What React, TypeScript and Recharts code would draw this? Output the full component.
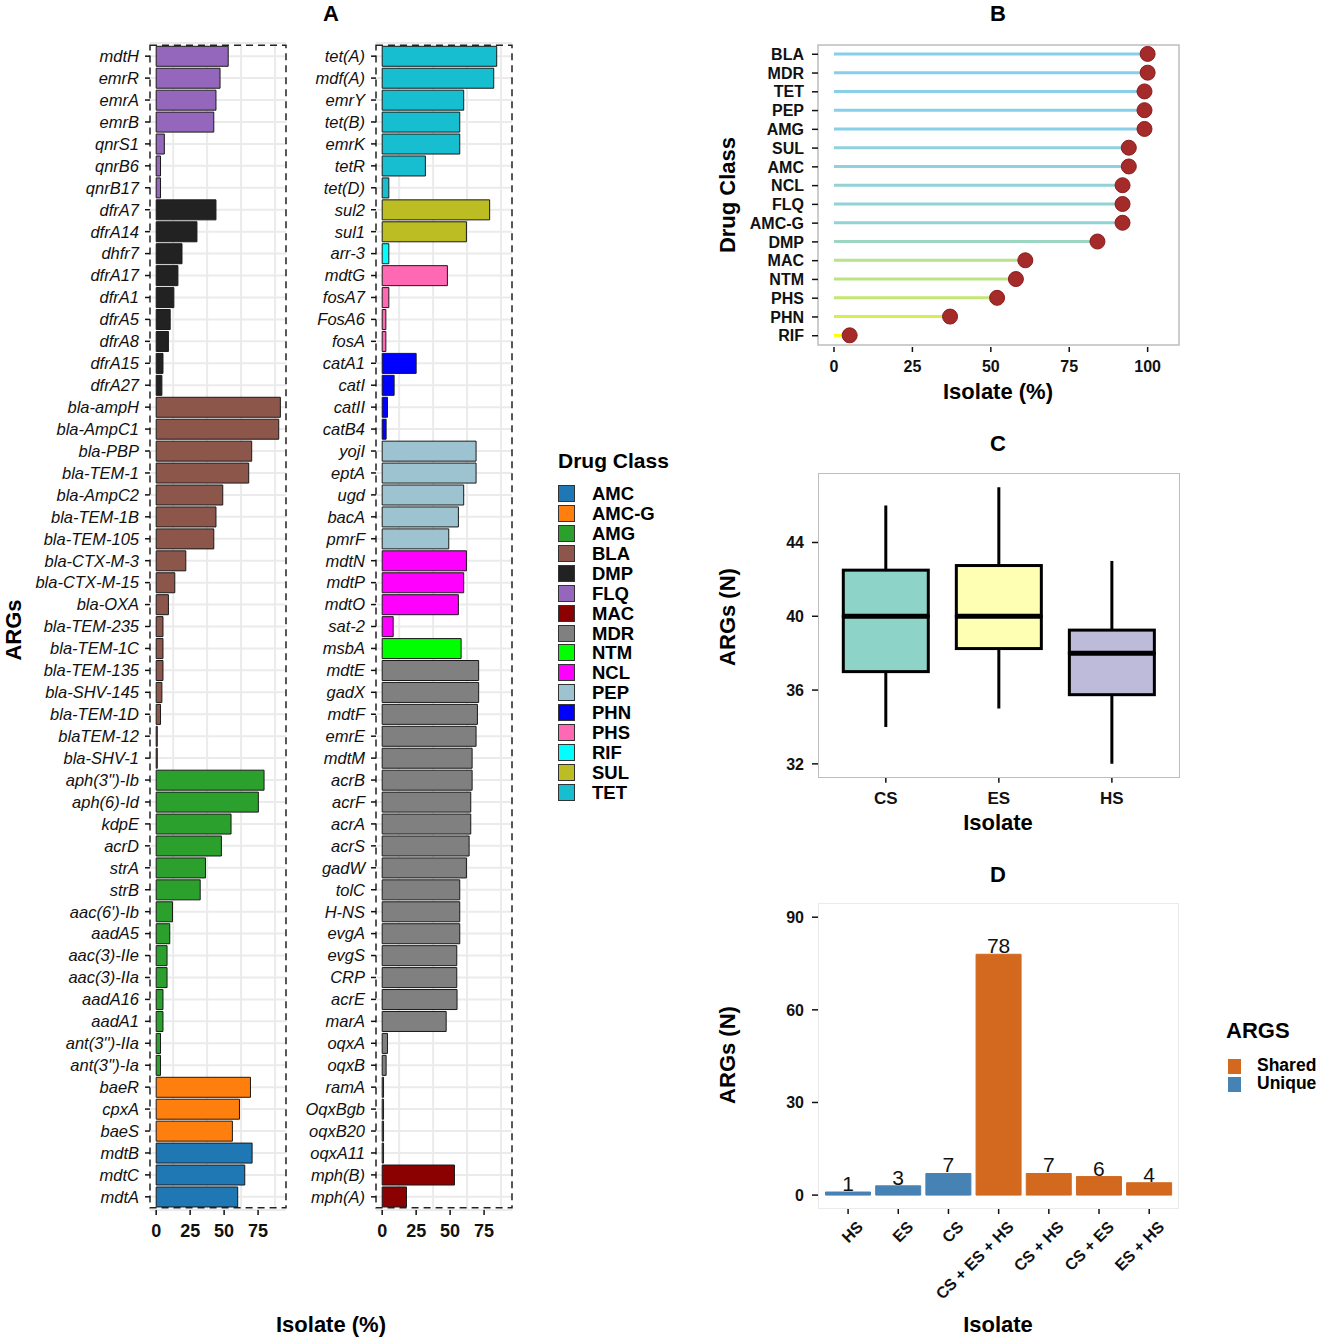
import React from 'react';
import { BarChart, Bar, XAxis, YAxis, CartesianGrid, Cell, ReferenceArea, LabelList } from 'recharts';

const FONT = "'Liberation Sans', Arial, Helvetica, sans-serif";

// drug classes and their fill colours (legend order)
const drugClasses = ['AMC', 'AMC-G', 'AMG', 'BLA', 'DMP', 'FLQ', 'MAC', 'MDR', 'NTM', 'NCL', 'PEP', 'PHN', 'PHS', 'RIF', 'SUL', 'TET'];
const classColors = ['#1f77b4', '#ff7f0e', '#2ca02c', '#8c564b', '#222222', '#9467bd', '#8b0000', '#808080', '#00ff00', '#ff00ff', '#9ec3d0', '#0000ff', '#ff69b4', '#00ffff', '#bcbd22', '#17becf'];

// Panel A, left facet
const leftGenes = ['mdtH', 'emrR', 'emrA', 'emrB', 'qnrS1', 'qnrB6', 'qnrB17', 'dfrA7', 'dfrA14', 'dhfr7', 'dfrA17', 'dfrA1', 'dfrA5', 'dfrA8', 'dfrA15', 'dfrA27', 'bla-ampH', 'bla-AmpC1', 'bla-PBP', 'bla-TEM-1', 'bla-AmpC2', 'bla-TEM-1B', 'bla-TEM-105', 'bla-CTX-M-3', 'bla-CTX-M-15', 'bla-OXA', 'bla-TEM-235', 'bla-TEM-1C', 'bla-TEM-135', 'bla-SHV-145', 'bla-TEM-1D', 'blaTEM-12', 'bla-SHV-1', "aph(3'')-Ib", 'aph(6)-Id', 'kdpE', 'acrD', 'strA', 'strB', "aac(6')-Ib", 'aadA5', 'aac(3)-IIe', 'aac(3)-IIa', 'aadA16', 'aadA1', "ant(3'')-IIa", "ant(3'')-Ia", 'baeR', 'cpxA', 'baeS', 'mdtB', 'mdtC', 'mdtA'];
const leftValues = [53, 47, 44, 42.4, 6, 3.2, 3.2, 44, 30, 19, 16, 13, 10.3, 9, 5, 4.2, 91.4, 90.2, 70.3, 68.1, 49, 44, 42.4, 21.8, 13.7, 9, 5, 5, 5, 4.2, 3.2, 0.8, 0.8, 79.4, 75.2, 55.1, 48, 36.3, 32.4, 12, 10, 8, 8, 5, 5, 3.2, 3.2, 69.4, 61.3, 56.1, 70.6, 65.2, 60];
const leftClasses = ['FLQ', 'FLQ', 'FLQ', 'FLQ', 'FLQ', 'FLQ', 'FLQ', 'DMP', 'DMP', 'DMP', 'DMP', 'DMP', 'DMP', 'DMP', 'DMP', 'DMP', 'BLA', 'BLA', 'BLA', 'BLA', 'BLA', 'BLA', 'BLA', 'BLA', 'BLA', 'BLA', 'BLA', 'BLA', 'BLA', 'BLA', 'BLA', 'BLA', 'BLA', 'AMG', 'AMG', 'AMG', 'AMG', 'AMG', 'AMG', 'AMG', 'AMG', 'AMG', 'AMG', 'AMG', 'AMG', 'AMG', 'AMG', 'AMC-G', 'AMC-G', 'AMC-G', 'AMC', 'AMC', 'AMC'];

// Panel A, right facet
const rightGenes = ['tet(A)', 'mdf(A)', 'emrY', 'tet(B)', 'emrK', 'tetR', 'tet(D)', 'sul2', 'sul1', 'arr-3', 'mdtG', 'fosA7', 'FosA6', 'fosA', 'catA1', 'catI', 'catII', 'catB4', 'yojI', 'eptA', 'ugd', 'bacA', 'pmrF', 'mdtN', 'mdtP', 'mdtO', 'sat-2', 'msbA', 'mdtE', 'gadX', 'mdtF', 'emrE', 'mdtM', 'acrB', 'acrF', 'acrA', 'acrS', 'gadW', 'tolC', 'H-NS', 'evgA', 'evgS', 'CRP', 'acrE', 'marA', 'oqxA', 'oqxB', 'ramA', 'OqxBgb', 'oqxB20', 'oqxA11', 'mph(B)', 'mph(A)'];
const rightValues = [84.3, 82.1, 60, 57.1, 57.1, 31.8, 4.9, 79.1, 62, 4.9, 48, 4.9, 2.7, 2.7, 25, 8.8, 3.9, 2.9, 69.1, 69.1, 60, 56.1, 49, 62, 60, 56.1, 8.1, 58.1, 71, 71, 70.1, 69.1, 66.2, 66.2, 65.2, 65.2, 64, 62, 57.1, 57.1, 57.1, 54.9, 54.9, 55.1, 47.1, 3.9, 2.9, 1, 1, 1, 1, 53.2, 17.9];
const rightClasses = ['TET', 'TET', 'TET', 'TET', 'TET', 'TET', 'TET', 'SUL', 'SUL', 'RIF', 'PHS', 'PHS', 'PHS', 'PHS', 'PHN', 'PHN', 'PHN', 'PHN', 'PEP', 'PEP', 'PEP', 'PEP', 'PEP', 'NCL', 'NCL', 'NCL', 'NCL', 'NTM', 'MDR', 'MDR', 'MDR', 'MDR', 'MDR', 'MDR', 'MDR', 'MDR', 'MDR', 'MDR', 'MDR', 'MDR', 'MDR', 'MDR', 'MDR', 'MDR', 'MDR', 'MDR', 'MDR', 'MDR', 'MDR', 'MDR', 'MDR', 'MAC', 'MAC'];
const isolateTicks = [0, 25, 50, 75];

// Panel B
const lolliClasses = ['BLA', 'MDR', 'TET', 'PEP', 'AMG', 'SUL', 'AMC', 'NCL', 'FLQ', 'AMC-G', 'DMP', 'MAC', 'NTM', 'PHS', 'PHN', 'RIF'];
const lolliValues = [100, 100, 99, 99, 99, 94, 94, 92, 92, 92, 84, 61, 58, 52, 37, 5];

// Panel C
const boxGroups = ['CS', 'ES', 'HS'];
const boxMin = [34, 35, 32];
const boxQ1 = [37, 38.25, 35.75];
const boxMedian = [40, 40, 38];
const boxQ3 = [42.5, 42.75, 39.25];
const boxMax = [46, 47, 43];
const boxFills = ['#8dd3c7', '#ffffb3', '#bebada'];

// Panel D
const isolateSets = ['HS', 'ES', 'CS', 'CS + ES + HS', 'CS + HS', 'CS + ES', 'ES + HS'];
const isolateCounts = [1, 3, 7, 78, 7, 6, 4];
const isolateTypes = ['Unique', 'Unique', 'Unique', 'Shared', 'Shared', 'Shared', 'Shared'];
const argsTypes = ['Shared', 'Unique'];
const argsColors = ['#d2691e', '#4682b4'];

const colorOf = (cls: string) => classColors[drugClasses.indexOf(cls)];

const tickTxt = { fontSize: 16, fontWeight: 'bold', fill: '#111', fontFamily: FONT };
const tickLn = { stroke: '#111', strokeWidth: 1.5 };

function Txt({ x, y, size = 22, weight = 'bold', rotate = false, left = false, children }: any) {
  return (
    <div
      style={{
        position: 'absolute',
        left: x,
        top: y,
        fontSize: size,
        fontWeight: weight,
        whiteSpace: 'nowrap',
        lineHeight: 1,
        color: '#000',
        transform: left ? 'translate(0,-50%)' : rotate ? 'translate(-50%,-50%) rotate(-90deg)' : 'translate(-50%,-50%)',
      }}
    >
      {children}
    </div>
  );
}

// plain panel outline drawn over a chart's plotting area
function Frame({ x, y, w, h, color }: any) {
  return <div style={{ position: 'absolute', left: x, top: y, width: w, height: h, border: `1.5px solid ${color}`, boxSizing: 'border-box', pointerEvents: 'none' }} />;
}

function ArgFacet({ genes, values, classes, left }: any) {
  const data = genes.map((g: string, i: number) => ({ gene: g, value: values[i], cls: classes[i] }));
  return (
    <div style={{ position: 'absolute', left, top: 0 }}>
      <BarChart width={291} height={1250} data={data} layout="vertical" margin={{ top: 43, right: 5, bottom: 10, left: 0 }} barCategoryGap="5%">
        <CartesianGrid stroke="#ebebeb" strokeWidth={2} verticalValues={[0, 12.5, 25, 37.5, 50, 62.5, 75, 87.5]} />
        <XAxis type="number" dataKey="value" domain={[-4.55, 95.55]} ticks={isolateTicks} allowDataOverflow axisLine={false} tickLine={tickLn} tickSize={5} tickMargin={9} tick={{ ...tickTxt, fontSize: 18 }} height={30} />
        <YAxis type="category" dataKey="gene" width={150} interval={0} axisLine={false} tickLine={tickLn} tickSize={5} tickMargin={6} tick={{ fontSize: 16.5, fontStyle: 'italic', fill: '#111', fontFamily: FONT }} padding={{ top: 2.2, bottom: 2.2 }} />
        <Bar dataKey="value" stroke="#1a1a1a" strokeWidth={1} isAnimationActive={false}>
          {data.map((d: any, i: number) => (
            <Cell key={i} fill={colorOf(d.cls)} />
          ))}
        </Bar>
        <ReferenceArea x1={-4.55} x2={95.55} fill="none" fillOpacity={0} stroke="#222" strokeWidth={1.5} strokeDasharray="7 5" ifOverflow="visible" />
      </BarChart>
    </div>
  );
}

// yellow (low) to sky blue (high) colour for the lollipop sticks
function stickColor(v: number) {
  const t = Math.max(0, Math.min(1, (v - 5) / 95));
  const r = Math.round(255 + (135 - 255) * t);
  const g = Math.round(255 + (206 - 255) * t);
  const b = Math.round(0 + 235 * t);
  return `rgb(${r},${g},${b})`;
}

const Lollipop = (p: any) => {
  const { x, y, width, height, payload } = p;
  const cy = y + height / 2;
  const end = x + width;
  return (
    <g>
      <line x1={x} x2={end} y1={cy} y2={cy} stroke={stickColor(payload.value)} strokeWidth={3} />
      <circle cx={end} cy={cy} r={7.5} fill="#a52a2a" stroke="#8a1d1d" strokeWidth={1} />
    </g>
  );
};

function PanelB() {
  const data = lolliClasses.map((c, i) => ({ cls: c, value: lolliValues[i] }));
  return (
    <div style={{ position: 'absolute', left: 660, top: 0 }}>
      <BarChart width={530} height={410} data={data} layout="vertical" margin={{ top: 43, right: 11, bottom: 33, left: 0 }}>
        <XAxis type="number" dataKey="value" domain={[-5.1, 110]} ticks={[0, 25, 50, 75, 100]} allowDataOverflow axisLine={false} tickLine={tickLn} tickSize={5} tickMargin={9} tick={tickTxt} height={30} />
        <YAxis type="category" dataKey="cls" width={158} interval={0} axisLine={false} tickLine={tickLn} tickSize={6} tickMargin={8} tick={tickTxt} padding={{ top: 1.9, bottom: 1.9 }} />
        <ReferenceArea x1={-5.1} x2={110} fill="none" fillOpacity={0} stroke="#bdbdbd" strokeWidth={1.5} ifOverflow="visible" />
        <Bar dataKey="value" barSize={10} shape={Lollipop} isAnimationActive={false} />
      </BarChart>
    </div>
  );
}

const Whisker = (p: any) => {
  const { x, y, width, height } = p;
  const cx = x + width / 2;
  const top = Math.min(y, y + height);
  return <line x1={cx} x2={cx} y1={top} y2={top + Math.abs(height)} stroke="#000" strokeWidth={3} />;
};

const HalfBox = (withMedian: boolean) => (p: any) => {
  const { x, y, width, height, payload } = p;
  const top = Math.min(y, y + height);
  const h = Math.abs(height);
  const fill = boxFills[boxGroups.indexOf(payload.group)];
  return (
    <g>
      <rect x={x} y={top} width={width} height={h} fill={fill} stroke="#000" strokeWidth={3} />
      {withMedian && <line x1={x} x2={x + width} y1={top + h} y2={top + h} stroke="#000" strokeWidth={5} />}
    </g>
  );
};

function PanelC() {
  const data = boxGroups.map((g, i) => ({
    group: g,
    base: boxMin[i],
    lowWhisker: boxQ1[i] - boxMin[i],
    lowBox: boxMedian[i] - boxQ1[i],
    highBox: boxQ3[i] - boxMedian[i],
    highWhisker: boxMax[i] - boxQ3[i],
  }));
  return (
    <div style={{ position: 'absolute', left: 660, top: 430 }}>
      <BarChart width={530} height={420} data={data} margin={{ top: 43.3, right: 10.3, bottom: 42.3, left: 0 }}>
        <XAxis type="category" dataKey="group" padding={{ left: 11.3, right: 11.3 }} axisLine={false} tickLine={tickLn} tickSize={5} tickMargin={9} tick={{ ...tickTxt, fontSize: 17 }} height={30} />
        <YAxis type="number" domain={[31.25, 47.75]} ticks={[32, 36, 40, 44]} allowDataOverflow width={158} axisLine={false} tickLine={tickLn} tickSize={6} tickMargin={8} tick={tickTxt} />
        <Bar dataKey="base" stackId="b" barSize={85} shape={() => <g />} isAnimationActive={false} />
        <Bar dataKey="lowWhisker" stackId="b" barSize={85} shape={Whisker} isAnimationActive={false} />
        <Bar dataKey="lowBox" stackId="b" barSize={85} shape={HalfBox(false)} isAnimationActive={false} />
        <Bar dataKey="highBox" stackId="b" barSize={85} shape={HalfBox(true)} isAnimationActive={false} />
        <Bar dataKey="highWhisker" stackId="b" barSize={85} shape={Whisker} isAnimationActive={false} />
      </BarChart>
    </div>
  );
}

const RotTick = (p: any) => {
  const { x, y, payload } = p;
  return (
    <g transform={`translate(${x + 8},${y + 4})`}>
      <text transform="rotate(-45)" textAnchor="end" dy="0.71em" fontSize={16} fontWeight="bold" fill="#111" fontFamily={FONT}>
        {payload.value}
      </text>
    </g>
  );
};

function PanelD() {
  const data = isolateSets.map((s, i) => ({ set: s, count: isolateCounts[i], type: isolateTypes[i] }));
  return (
    <div style={{ position: 'absolute', left: 660, top: 860 }}>
      <BarChart width={530} height={481} data={data} margin={{ top: 43.3, right: 10.7, bottom: 42, left: 0 }} barCategoryGap="5%">
        <XAxis type="category" dataKey="set" interval={0} padding={{ left: 5, right: 5 }} axisLine={false} tickLine={tickLn} tickSize={5} tickMargin={2} tick={<RotTick />} height={90} />
        <YAxis type="number" domain={[-4.5, 94.5]} ticks={[0, 30, 60, 90]} allowDataOverflow width={158} axisLine={false} tickLine={tickLn} tickSize={6} tickMargin={8} tick={tickTxt} />
        <Bar dataKey="count" isAnimationActive={false} strokeWidth={1}>
          {data.map((d, i) => {
            const c = argsColors[argsTypes.indexOf(d.type)];
            return <Cell key={i} fill={c} stroke={c} />;
          })}
          <LabelList dataKey="count" position="top" offset={1} fontSize={21} fill="#111" fontFamily={FONT} />
        </Bar>
      </BarChart>
    </div>
  );
}

export default function App() {
  return (
    <div style={{ position: 'absolute', left: 0, top: 0, width: 1325, height: 1341, background: '#fff', fontFamily: FONT, overflow: 'hidden' }}>
      {/* Panel A */}
      <ArgFacet genes={leftGenes} values={leftValues} classes={leftClasses} left={0} />
      <ArgFacet genes={rightGenes} values={rightValues} classes={rightClasses} left={225.5} />
      <Txt x={331} y={14}>A</Txt>
      <Txt x={14} y={630} rotate>ARGs</Txt>
      <Txt x={331} y={1325}>Isolate (%)</Txt>

      {/* Drug class legend */}
      <Txt x={558} y={460} size={21} left>Drug Class</Txt>
      {drugClasses.map((c, i) => (
        <React.Fragment key={c}>
          <div style={{ position: 'absolute', left: 558, top: 485 + i * 19.93, width: 17, height: 17, background: classColors[i], border: '1px solid #333', boxSizing: 'border-box' }} />
          <Txt x={592} y={494 + i * 19.93} size={18.5} left>{c}</Txt>
        </React.Fragment>
      ))}

      {/* Panel B */}
      <PanelB />
      <Txt x={998} y={14}>B</Txt>
      <Txt x={728} y={195} rotate>Drug Class</Txt>
      <Txt x={998} y={392}>Isolate (%)</Txt>

      {/* Panel C */}
      <PanelC />
      <Frame x={818} y={473.3} w={361.7} h={304.4} color="#bdbdbd" />
      <Txt x={998} y={444}>C</Txt>
      <Txt x={728} y={617} rotate>ARGs (N)</Txt>
      <Txt x={998} y={823}>Isolate</Txt>

      {/* Panel D */}
      <PanelD />
      <Frame x={818} y={903.3} w={361.3} h={305.7} color="#ebebeb" />
      <Txt x={998} y={875}>D</Txt>
      <Txt x={728} y={1055} rotate>ARGs (N)</Txt>
      <Txt x={998} y={1325}>Isolate</Txt>

      <Txt x={1226} y={1031} size={22} left>ARGS</Txt>
      {argsTypes.map((t, i) => (
        <React.Fragment key={t}>
          <div style={{ position: 'absolute', left: 1228, top: 1059 + i * 18, width: 13, height: 15, background: argsColors[i] }} />
          <Txt x={1257} y={1066 + i * 18} size={17.5} left>{t}</Txt>
        </React.Fragment>
      ))}
    </div>
  );
}
